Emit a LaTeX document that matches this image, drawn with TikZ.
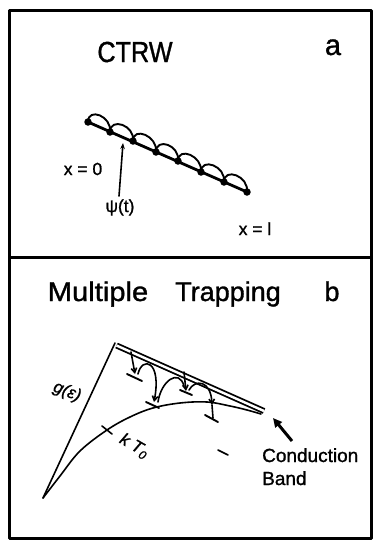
\documentclass[tikz,border=0pt]{standalone}
\usepackage{fontspec}
\setmainfont[FakeBold=1.2,AutoFakeBold=1.2]{Liberation Sans}
\usetikzlibrary{arrows.meta}
\newcommand{\fsz}[1]{\fontsize{#1}{#1}\selectfont}
\begin{document}
\begin{tikzpicture}[x=1pt,y=-1pt,line join=round,line cap=round,
  frame/.style={line width=3pt,line cap=rect},
  chain/.style={line width=2.8pt},
  hop/.style={line width=1.9pt},
  dot/.style={circle,fill=black,inner sep=0pt,minimum size=7.5pt},
  thinl/.style={line width=1.6pt},
  trapbar/.style={line width=1.9pt},
  hopar/.style={line width=1.6pt,-{Straight Barb[length=4.5pt,width=5.5pt]}},
  lbl/.style={inner sep=0pt,anchor=base},
  bigt/.style={lbl,font=\fsz{29}\bfseries},
  midt/.style={lbl,font=\fsz{17.5}\bfseries},
  smt/.style={inner sep=0pt,font=\fsz{17}\bfseries\itshape}]
\useasboundingbox (0,0) rectangle (373,542);
% frame
\coordinate (tl) at (9,10);
\coordinate (br) at (371,538);
\coordinate (ml) at (9,257);
\coordinate (mr) at (371,257);
\draw[frame] (tl) rectangle (br);
\draw[frame] (ml) -- (mr);

% ---------------- panel a
\node[bigt] (ctrw) at (135,62) {\scalebox{0.87}[1]{CTRW}};
\node[bigt] (la) at (333,55) {a};
\node[dot] (d1) at (88,122) {};
\node[dot] (d2) at (110,132) {};
\node[dot] (d3) at (133,141) {};
\node[dot] (d4) at (156,152) {};
\node[dot] (d5) at (178,161) {};
\node[dot] (d6) at (201,172) {};
\node[dot] (d7) at (224,182) {};
\node[dot] (d8) at (247,192) {};
\draw[chain] (d1.center) -- (d8.center);
\foreach \a/\b in {d1/d2,d2/d3,d3/d4,d4/d5,d5/d6,d6/d7,d7/d8}
  \draw[hop] (\a.center) .. controls +(0,-15) and +(2,-16) .. (\b.center);
\node[midt] (x0) at (83,175) {x = 0};
\node[midt] (psi) at (120,212) {ψ(t)};
\node[midt] (xl) at (255,235) {x = l};
\coordinate (psitop) at (123,143);
\coordinate (psibot) at (119,196);
\draw[line width=1.6pt,-{Stealth[length=6pt,width=4.5pt]}] (psibot) -- (psitop);

% ---------------- panel b
\node[bigt,font=\fsz{27}\bfseries] (mult) at (98,301) {\scalebox{1.08}[1]{Multiple}};
\node[bigt,font=\fsz{27}\bfseries] (trap) at (228,301) {Trapping};
\node[bigt,font=\fsz{27}\bfseries] (lb) at (332,301) {b};

\coordinate (gb) at (43,498);
\coordinate (apex) at (115,343);
\coordinate (bs) at (116.5,345.5);
\coordinate (be) at (264,411);
\draw[thinl] (gb) -- (apex);
\draw[line width=1.8pt,double distance=2.4pt,line cap=butt] (bs) -- (be);
\draw[thinl] plot[smooth,tension=0.6] coordinates
  {(43,498) (60,476) (80,451) (107,430) (130,417) (153,408) (180,403)
   (207,402) (230,406) (247,410) (261,414)};
% kT0 tick
\coordinate (tk1) at (102,426);
\coordinate (tk2) at (112,434);
\draw[thinl] (tk1) -- (tk2);
\node[smt,rotate=-30] (kt) at (134,446) {k T\raisebox{-0.35ex}{\fsz{12}0}};
\node[smt,rotate=-22] (geps) at (67,392) {g(ε)};

% traps
\coordinate (ta1) at (127,374); \coordinate (ta2) at (142,381);
\coordinate (tb1) at (146,402); \coordinate (tb2) at (159,408);
\coordinate (tc1) at (180,390); \coordinate (tc2) at (192,395);
\coordinate (td1) at (205,415); \coordinate (td2) at (218,422);
\foreach \p/\q in {ta1/ta2,tb1/tb2,tc1/tc2,td1/td2}
  \draw[trapbar] (\p) -- (\q);
% capture arrows from band
\coordinate (ca0) at (131,352); \coordinate (ca1) at (135,374);
\draw[hopar] (ca0) -- (ca1);
\coordinate (cc0) at (184,372); \coordinate (cc1) at (186,391);
\draw[hopar] (cc0) -- (cc1);
% hops between traps
\coordinate (hA) at (138,374); \coordinate (hB) at (154,402);
\draw[hopar] (hA) .. controls (142,356) and (162,360) .. (hB);
\coordinate (hB2) at (158,402); \coordinate (hC) at (184,386);
\draw[thinl] (hB2) .. controls (161,381) and (179,368) .. (hC);
\coordinate (hC2) at (189,390); \coordinate (hD) at (212,405);
\draw[hopar] (hC2) .. controls (195,379) and (211,380) .. (hD);
\coordinate (hD2) at (213,418);
\draw[thinl] (hD) -- (hD2);
% small dash
\coordinate (ds1) at (218,450); \coordinate (ds2) at (228,455);
\draw[thinl] (ds1) -- (ds2);
% conduction band label
\coordinate (cbt) at (292,441);
\coordinate (cbh) at (273,418);
\draw[line width=3pt,line cap=butt,-{Triangle[length=9pt,width=8.5pt]}] (cbt) -- (cbh);
\node[midt,anchor=base west,font=\fsz{19}\bfseries] (cond) at (262,462) {Conduction};
\node[midt,anchor=base west,font=\fsz{19}\bfseries] (band) at (262,485) {Band};
\end{tikzpicture}
\end{document}
